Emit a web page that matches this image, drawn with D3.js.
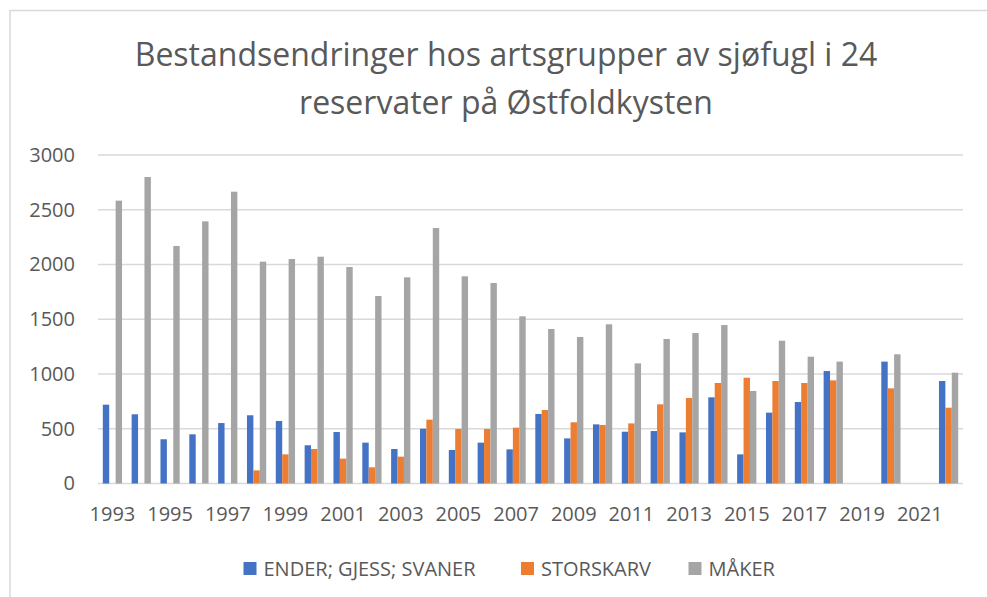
<!DOCTYPE html>
<html>
<head>
<meta charset="utf-8">
<script src="https://cdn.jsdelivr.net/npm/d3@7"></script>
<style>
  body { margin: 0; background: #fff; }
  svg { font-family: "Open Sans", sans-serif; display: block; }
</style>
</head>
<body>
<svg id="chart"></svg>
<script>
const years = d3.range(1993, 2023).map(String);
const seriesNames = ["ENDER; GJESS; SVANER", "STORSKARV", "MÅKER"];
const colors = ["#4472C4", "#ED7D31", "#A5A5A5"];

// null = no count that year
const ender = [720, 632, 404, 449, 552, 623, 571, 349, 470, 373,
  315, 500, 306, 373, 312, 635, 412, 540, 473, 479,
  467, 787, 266, 647, 744, 1027, null, 1113, null, 936];
const storskarv = [0, 0, 0, 0, 0, 120, 266, 315, 227, 148,
  245, 583, 498, 498, 510, 671, 559, 534, 549, 723,
  781, 918, 966, 936, 918, 942, null, 869, null, 692];
const maker = [2583, 2799, 2169, 2394, 2665, 2026, 2050, 2071, 1977, 1712,
  1883, 2333, 1892, 1831, 1527, 1411, 1338, 1454, 1097, 1320,
  1374, 1447, 845, 1304, 1158, 1113, null, 1180, null, 1012];
const yTicks = [0, 500, 1000, 1500, 2000, 2500, 3000];
const xTickYears = years.filter((d, i) => i % 2 === 0);

const allSeries = [ender, storskarv, maker];

let width = 987, height = 597;
let margin = { left: 98, right: 24, top: 155, bottom: 113 };

let svg = d3.select("#chart").attr("width", width).attr("height", height);

// chart frame (runs off the right and bottom edge like the original)
svg.append("rect")
  .attr("x", 10).attr("y", 10.5)
  .attr("width", 1000).attr("height", 620)
  .attr("fill", "#fff").attr("stroke", "#d9d9d9").attr("stroke-width", 1.5);

let x = d3.scaleBand()
  .domain(years)
  .range([margin.left, width - margin.right])
  .paddingInner(0.333)
  .paddingOuter(0.1665);

let xInner = d3.scaleBand()
  .domain(d3.range(3))
  .range([0, x.bandwidth()]);

let y = d3.scaleLinear()
  .domain([0, 3000])
  .range([height - margin.bottom - 0.5, margin.top]);

// gridlines
svg.append("g")
  .selectAll("line")
  .data(yTicks)
  .enter()
  .append("line")
  .attr("x1", margin.left)
  .attr("x2", width - margin.right)
  .attr("y1", d => y(d))
  .attr("y2", d => y(d))
  .attr("stroke", "#d9d9d9")
  .attr("stroke-width", 1.3);

// y labels
let yAxis = d3.axisLeft(y).tickValues(yTicks).tickFormat(d3.format("d")).tickSize(0).tickPadding(23);
svg.append("g")
  .attr("transform", "translate(" + margin.left + ",0)")
  .call(yAxis)
  .call(g => g.select(".domain").remove())
  .selectAll("text")
  .attr("font-size", 20)
  .attr("font-family", "Open Sans, sans-serif")
  .attr("fill", "#595959");

// bars
let groups = svg.append("g")
  .selectAll("g")
  .data(allSeries)
  .enter()
  .append("g")
  .attr("fill", (d, i) => colors[i]);

groups.each(function (vals, si) {
  d3.select(this).selectAll("rect")
    .data(vals.map((v, i) => ({ year: years[i], v: v })).filter(d => d.v))
    .enter()
    .append("rect")
    .attr("x", d => x(d.year) + xInner(si))
    .attr("width", xInner.bandwidth())
    .attr("y", d => y(d.v))
    .attr("height", d => y(0) - y(d.v));
});

// x labels
let xAxis = d3.axisBottom(x).tickValues(xTickYears).tickSize(0).tickPadding(23);
svg.append("g")
  .attr("transform", "translate(0," + y(0) + ")")
  .call(xAxis)
  .call(g => g.select(".domain").remove())
  .selectAll("text")
  .attr("font-size", 20)
  .attr("font-family", "Open Sans, sans-serif")
  .attr("fill", "#595959");

// title
let title = svg.append("text")
  .attr("text-anchor", "middle")
  .attr("fill", "#595959")
  .attr("font-size", 32);
title.append("tspan").attr("x", 506).attr("y", 66)
  .text("Bestandsendringer hos artsgrupper av sjøfugl i 24");
title.append("tspan").attr("x", 506).attr("y", 114)
  .text("reservater på Østfoldkysten");

// legend
const legendX = [243.5, 521, 688.5];
let legend = svg.append("g")
  .selectAll("g")
  .data(seriesNames)
  .enter()
  .append("g")
  .attr("transform", (d, i) => "translate(" + legendX[i] + ",562)");
legend.append("rect")
  .attr("width", 13).attr("height", 13)
  .attr("fill", (d, i) => colors[i]);
legend.append("text")
  .attr("x", 20).attr("y", 13.5)
  .attr("font-size", 20)
  .attr("fill", "#595959")
  .text(d => d);
</script>
</body>
</html>
